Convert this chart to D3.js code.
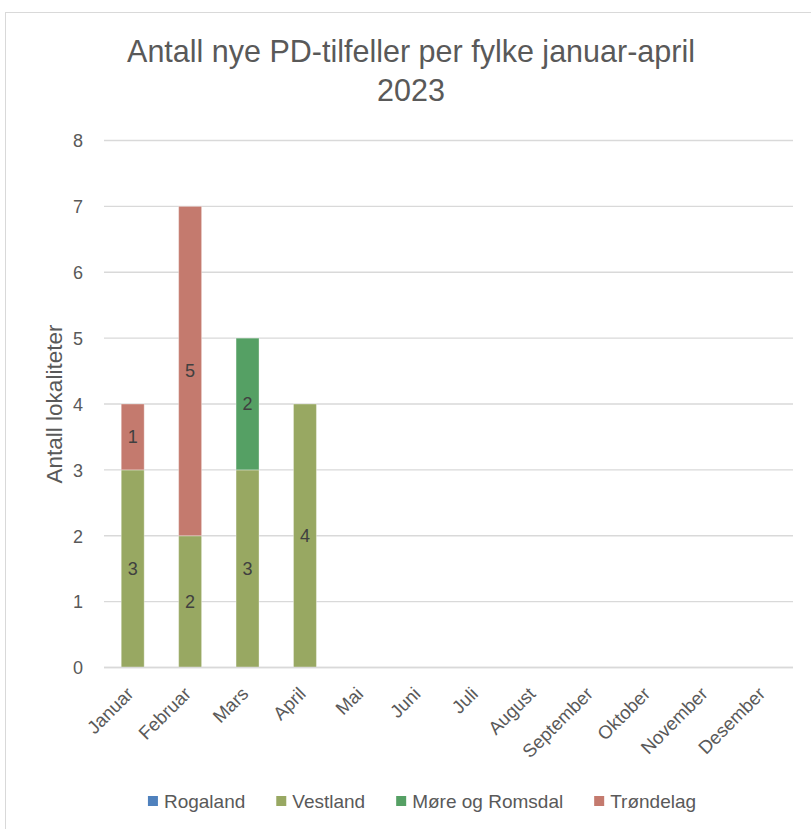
<!DOCTYPE html>
<html><head><meta charset="utf-8">
<script src="https://cdn.jsdelivr.net/npm/d3@7"></script>
<style>body{margin:0;background:#fff;} svg{display:block;}</style>
</head><body>
<script>
const months = ["Januar","Februar","Mars","April","Mai","Juni","Juli","August","September","Oktober","November","Desember"];
const seriesNames = ["Rogaland","Vestland","Møre og Romsdal","Trøndelag"];
const rogaland  = [0,0,0,0,0,0,0,0,0,0,0,0];
const vestland  = [3,2,3,4,0,0,0,0,0,0,0,0];
const more      = [0,0,2,0,0,0,0,0,0,0,0,0];
const trondelag = [1,5,0,0,0,0,0,0,0,0,0,0];
const colors = ["#4F81BD","#98A862","#55A064","#C47A6E"];
const yTicks = [0,1,2,3,4,5,6,7,8];
const title = ["Antall nye PD-tilfeller per fylke januar-april","2023"];
const yTitle = "Antall lokaliteter";

const W = 811, H = 829;
const font = "'Liberation Sans', Arial, sans-serif";
const svg = d3.select("body").append("svg").attr("width", W).attr("height", H);
svg.append("rect").attr("x",5.5).attr("y",12.5).attr("width",W+20).attr("height",H+20)
  .attr("fill","#fff").attr("stroke","#d9d9d9");

const x = d3.scaleBand().domain(months).range([104, 793]).paddingInner(0.6).paddingOuter(0.3);
const y = d3.scaleLinear().domain([0,8]).range([667.5, 140.5]);

// gridlines
svg.append("g").selectAll("line").data(yTicks).join("line")
  .attr("x1",104).attr("x2",793).attr("y1",d=>y(d)).attr("y2",d=>y(d))
  .attr("stroke","#d9d9d9").attr("stroke-width",1.3);

// y axis labels
const yAxis = d3.axisLeft(y).tickValues(yTicks).tickSize(0).tickPadding(0);
const ya = svg.append("g").attr("transform","translate(83,0)").call(yAxis);
ya.select(".domain").remove();
ya.selectAll("text").attr("font-family",font).attr("font-size",18).attr("fill","#595959").attr("dy","0.35em");

// stacked data
const table = months.map((m,i)=>({month:m, Rogaland:rogaland[i], Vestland:vestland[i], "Møre og Romsdal":more[i], "Trøndelag":trondelag[i]}));
const stack = d3.stack().keys(seriesNames)(table);
const layers = svg.append("g").selectAll("g").data(stack).join("g").attr("fill",(d,i)=>colors[i]);
layers.selectAll("rect").data(d=>d.filter(p=>p[1]-p[0]>0)).join("rect")
  .attr("x",d=>x(d.data.month)).attr("width",x.bandwidth())
  .attr("y",d=>y(d[1])).attr("height",d=>y(d[0])-y(d[1]))
  .attr("stroke","rgba(255,255,255,0.35)").attr("stroke-width",1);
layers.selectAll("text").data(d=>d.filter(p=>p[1]-p[0]>0)).join("text")
  .attr("x",d=>x(d.data.month)+x.bandwidth()/2).attr("y",d=>y((d[0]+d[1])/2))
  .attr("dy","0.35em").attr("text-anchor","middle")
  .attr("font-family",font).attr("font-size",18).attr("fill","#404040")
  .text(d=>d[1]-d[0]);

// baseline
svg.append("line").attr("x1",104).attr("x2",793).attr("y1",y(0)).attr("y2",y(0)).attr("stroke","#d9d9d9").attr("stroke-width",1.3);

// x labels
svg.append("g").selectAll("text").data(months).join("text")
  .attr("transform",d=>`translate(${x(d)+x.bandwidth()/2+2},${695}) rotate(-45)`)
  .attr("text-anchor","end").attr("font-family",font).attr("font-size",18.5).attr("fill","#595959")
  .text(d=>d);

// y title
svg.append("text").attr("transform",`translate(62,${(y(0)+y(8))/2}) rotate(-90)`)
  .attr("text-anchor","middle").attr("font-family",font).attr("font-size",22.5).attr("fill","#595959")
  .text(yTitle);

// title
svg.append("g").selectAll("text").data(title).join("text")
  .attr("x",411).attr("y",(d,i)=>62+i*39).attr("text-anchor","middle")
  .attr("font-family",font).attr("font-size",30.5).attr("fill","#595959")
  .text(d=>d);

// legend
const leg = svg.append("g");
let cx = 0;
const gap = 31;
seriesNames.forEach((n,i)=>{
  const g = leg.append("g");
  g.append("rect").attr("x",cx).attr("y",-5).attr("width",10).attr("height",10).attr("fill",colors[i]);
  const t = g.append("text").attr("x",cx+16).attr("y",0).attr("dy","0.35em")
    .attr("font-family",font).attr("font-size",19).attr("fill","#595959").text(n);
  cx += 16 + t.node().getComputedTextLength() + gap;
});
const totalW = cx - gap;
leg.attr("transform",`translate(${422 - totalW/2},801)`);
</script>
</body></html>
